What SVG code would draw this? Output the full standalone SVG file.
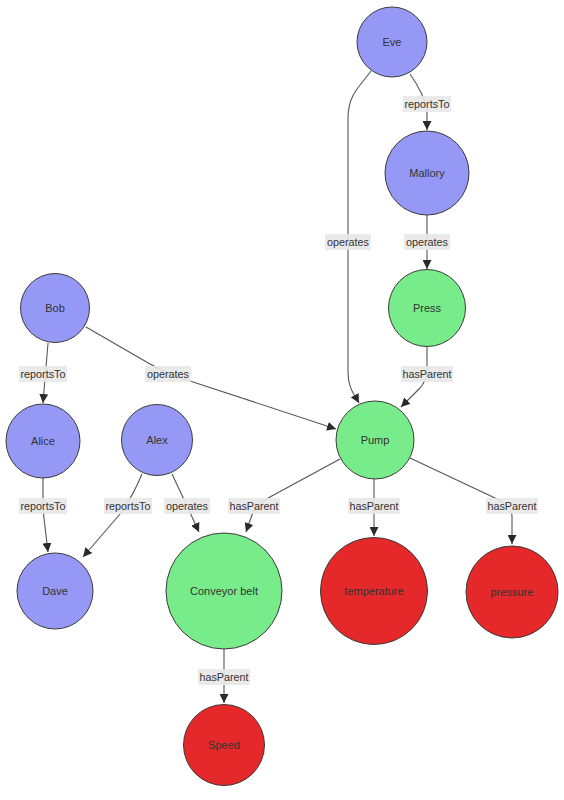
<svg xmlns="http://www.w3.org/2000/svg" width="564" height="800" viewBox="0 0 564 800">
<style>
.n circle{stroke:#3a3a3a;stroke-width:1}
.p circle{fill:#9599f5}
.g circle{fill:#78ec8a}
.r circle{fill:#e5282a}
.n text{font-family:"Liberation Sans",Arial,sans-serif;font-size:11px;fill:#333;text-anchor:middle;dominant-baseline:central}
.e path{fill:none;stroke:#555;stroke-width:1.1}
.l rect{fill:#e8e8e8;opacity:0.9}
.l text{font-family:"Liberation Sans",Arial,sans-serif;font-size:10.8px;fill:#333;text-anchor:middle;dominant-baseline:central}
</style>
<defs>
<marker id="ah" viewBox="0 0 10 10" refX="10" refY="5" markerWidth="9" markerHeight="9" markerUnits="userSpaceOnUse" orient="auto">
<path d="M0,0 L10,5 L0,10 Z" fill="#2a2a2a"/>
</marker>
</defs>
<rect width="564" height="800" fill="#fff"/>
<g id="connectors" class="e">
<path d="M410 74 Q424 94 427 110 L427 130" marker-end="url(#ah)"/>
<path d="M371 71 C360 86 348 95 348 118 L348 372 C348 388 354 394 359 403" marker-end="url(#ah)"/>
<path d="M427 215 L427 269" marker-end="url(#ah)"/>
<path d="M427 347 L427 370 Q427 380 420 388 L401 407" marker-end="url(#ah)"/>
<path d="M48 343 L43 403" marker-end="url(#ah)"/>
<path d="M86 327 L150 364 Q168 374 190 381 L336 429" marker-end="url(#ah)"/>
<path d="M43 478 L43 510 L48 552" marker-end="url(#ah)"/>
<path d="M142 474 Q132 498 120 514 L83 557" marker-end="url(#ah)"/>
<path d="M172 474 L187 506 L199 532" marker-end="url(#ah)"/>
<path d="M340 459 L270 497 Q256 505 252 515 L246 532" marker-end="url(#ah)"/>
<path d="M374 479 L374 536" marker-end="url(#ah)"/>
<path d="M410 458 L495 498 Q512 506 512 516 L512 544" marker-end="url(#ah)"/>
<path d="M224 649 L224 703" marker-end="url(#ah)"/>
</g>
<g id="labels" class="l">
<rect x="403" y="96" width="48" height="16"/><text x="427" y="104">reportsTo</text>
<rect x="325" y="234" width="46" height="16"/><text x="348" y="242">operates</text>
<rect x="404" y="234" width="46" height="16"/><text x="427" y="242">operates</text>
<rect x="401" y="366" width="52" height="16"/><text x="427" y="374">hasParent</text>
<rect x="19" y="366" width="48" height="16"/><text x="43" y="374">reportsTo</text>
<rect x="145" y="366" width="46" height="16"/><text x="168" y="374">operates</text>
<rect x="19" y="498" width="48" height="16"/><text x="43" y="506">reportsTo</text>
<rect x="104" y="498" width="48" height="16"/><text x="128" y="506">reportsTo</text>
<rect x="164" y="498" width="46" height="16"/><text x="187" y="506">operates</text>
<rect x="228" y="498" width="52" height="16"/><text x="254" y="506">hasParent</text>
<rect x="348" y="498" width="52" height="16"/><text x="374" y="506">hasParent</text>
<rect x="486" y="498" width="52" height="16"/><text x="512" y="506">hasParent</text>
<rect x="198" y="669" width="52" height="16"/><text x="224" y="677">hasParent</text>
</g>
<g id="eve" class="n p"><circle cx="392" cy="42" r="35"/><text x="392" y="42">Eve</text></g>
<g id="mallory" class="n p"><circle cx="427" cy="173" r="42"/><text x="427" y="173">Mallory</text></g>
<g id="press" class="n g"><circle cx="427" cy="308" r="38.5"/><text x="427" y="308">Press</text></g>
<g id="pump" class="n g"><circle cx="375" cy="440" r="39"/><text x="375" y="440">Pump</text></g>
<g id="bob" class="n p"><circle cx="55" cy="308" r="34.5"/><text x="55" y="308">Bob</text></g>
<g id="alice" class="n p"><circle cx="43" cy="441" r="37"/><text x="43" y="441">Alice</text></g>
<g id="alex" class="n p"><circle cx="157" cy="440" r="35.5"/><text x="157" y="440">Alex</text></g>
<g id="dave" class="n p"><circle cx="55" cy="591" r="38"/><text x="55" y="591">Dave</text></g>
<g id="conveyor" class="n g"><circle cx="224" cy="591" r="58"/><text x="224" y="591">Conveyor belt</text></g>
<g id="temperature" class="n r"><circle cx="374" cy="591" r="53.5"/><text x="374" y="591">temperature</text></g>
<g id="pressure" class="n r"><circle cx="512" cy="592" r="46"/><text x="512" y="592">pressure</text></g>
<g id="speed" class="n r"><circle cx="224" cy="745" r="40.5"/><text x="224" y="745">Speed</text></g>
</svg>
